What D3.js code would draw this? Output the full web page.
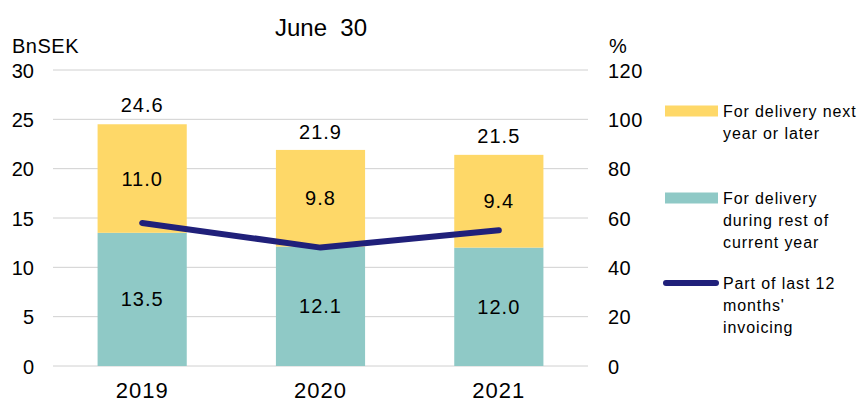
<!DOCTYPE html>
<html>
<head>
<meta charset="utf-8">
<script src="https://cdn.jsdelivr.net/npm/d3@7"></script>
<style>
  body { margin: 0; background: #fff; }
  text { font-family: "Liberation Sans", Arial, sans-serif; fill: #000; }
</style>
</head>
<body>
<div id="chart"></div>
<script>
var years = ["2019", "2020", "2021"];
var restOfYear = [13.5, 12.1, 12.0];
var nextYear = [11.0, 9.8, 9.4];
var totals = [24.6, 21.9, 21.5];
var partOfInvoicing = [58, 48, 55];
var leftTicks = [0, 5, 10, 15, 20, 25, 30];
var rightTicks = [0, 20, 40, 60, 80, 100, 120];

var colors = { rest: "#8fc9c6", next: "#fed868", line: "#20207a", grid: "#d0d0d0" };
var width = 862, height = 403;

var svg = d3.select("#chart").append("svg")
  .attr("width", width)
  .attr("height", height);

var x = d3.scaleBand().domain(years).range([53, 588]).paddingInner(0.5).paddingOuter(0.25);
var y = d3.scaleLinear().domain([0, 30]).range([366, 70]);
var y2 = d3.scaleLinear().domain([0, 120]).range([366, 70]);

// gridlines
svg.append("g").selectAll("line")
  .data(leftTicks)
  .enter().append("line")
  .attr("x1", 53).attr("x2", 588)
  .attr("y1", function(d) { return y(d); })
  .attr("y2", function(d) { return y(d); })
  .attr("stroke", colors.grid)
  .attr("stroke-width", 1);

// left axis
var leftAxis = svg.append("g")
  .attr("transform", "translate(40,0)")
  .call(d3.axisLeft(y).tickValues(leftTicks).tickSize(0).tickPadding(6));
leftAxis.select(".domain").remove();
leftAxis.selectAll("text").style("font-size", "20px").attr("dy", "0.35em");

// right axis
var rightAxis = svg.append("g")
  .attr("transform", "translate(602,0)")
  .call(d3.axisRight(y2).tickValues(rightTicks).tickSize(0).tickPadding(6));
rightAxis.select(".domain").remove();
rightAxis.selectAll("text").style("font-size", "20px").style("letter-spacing", "0.5px").attr("dy", "0.35em");

// bottom axis
var bottomAxis = svg.append("g")
  .attr("transform", "translate(0,366)")
  .call(d3.axisBottom(x).tickSize(0));
bottomAxis.select(".domain").remove();
bottomAxis.selectAll("text")
  .attr("y", 32).attr("dy", 0)
  .style("font-size", "22px").style("letter-spacing", "1px");

// bars
var groups = svg.append("g").selectAll("g")
  .data(years)
  .enter().append("g");

groups.append("rect")
  .attr("x", function(d) { return x(d); })
  .attr("width", x.bandwidth())
  .attr("y", function(d, i) { return y(restOfYear[i]); })
  .attr("height", function(d, i) { return y(0) - y(restOfYear[i]); })
  .attr("fill", colors.rest);

groups.append("rect")
  .attr("x", function(d) { return x(d); })
  .attr("width", x.bandwidth())
  .attr("y", function(d, i) { return y(restOfYear[i] + nextYear[i]); })
  .attr("height", function(d, i) { return y(restOfYear[i]) - y(restOfYear[i] + nextYear[i]); })
  .attr("fill", colors.next);

// segment labels
function valueLabel(yFn, textFn) {
  groups.append("text")
    .attr("x", function(d) { return x(d) + x.bandwidth() / 2; })
    .attr("y", yFn)
    .attr("dy", "0.35em")
    .attr("text-anchor", "middle")
    .style("font-size", "20px")
    .style("letter-spacing", "1px")
    .text(textFn);
}

valueLabel(function(d, i) { return y(restOfYear[i] / 2); },
  function(d, i) { return restOfYear[i].toFixed(1); });
valueLabel(function(d, i) { return y(restOfYear[i] + nextYear[i] / 2); },
  function(d, i) { return nextYear[i].toFixed(1); });
valueLabel(function(d, i) { return y(totals[i]) - 18; },
  function(d, i) { return totals[i].toFixed(1); });

// line
var line = d3.line()
  .x(function(d, i) { return x(years[i]) + x.bandwidth() / 2; })
  .y(function(d) { return y2(d); });

svg.append("path")
  .datum(partOfInvoicing)
  .attr("d", line)
  .attr("fill", "none")
  .attr("stroke", colors.line)
  .attr("stroke-width", 6)
  .attr("stroke-linecap", "round")
  .attr("stroke-linejoin", "round");

// titles
svg.append("text").attr("x", 321).attr("y", 36).attr("text-anchor", "middle")
  .style("font-size", "24px").style("white-space", "pre").text("June  30");
svg.append("text").attr("x", 12).attr("y", 53)
  .style("font-size", "20px").style("letter-spacing", "0.5px").text("BnSEK");
svg.append("text").attr("x", 609).attr("y", 53)
  .style("font-size", "20px").text("%");

// legend
var legend = [
  { type: "rect", color: colors.next, y: 111, lines: ["For delivery next", "year or later"] },
  { type: "rect", color: colors.rest, y: 198, lines: ["For delivery", "during rest of", "current year"] },
  { type: "line", color: colors.line, y: 283, lines: ["Part of last 12", "months'", "invoicing"] }
];

var lg = svg.append("g").selectAll("g")
  .data(legend)
  .enter().append("g");

lg.each(function(d) {
  var g = d3.select(this);
  if (d.type === "rect") {
    g.append("rect").attr("x", 665).attr("y", d.y - 5.5).attr("width", 53).attr("height", 11).attr("fill", d.color);
  } else {
    g.append("line").attr("x1", 666).attr("x2", 716).attr("y1", d.y).attr("y2", d.y)
      .attr("stroke", d.color).attr("stroke-width", 6).attr("stroke-linecap", "round");
  }
  g.selectAll("text.lbl").data(d.lines).enter().append("text")
    .attr("class", "lbl")
    .attr("x", 723)
    .attr("y", function(t, i) { return d.y + i * 22; })
    .attr("dy", "0.35em")
    .style("font-size", "16px")
    .style("letter-spacing", "0.9px")
    .text(function(t) { return t; });
});
</script>
</body>
</html>
